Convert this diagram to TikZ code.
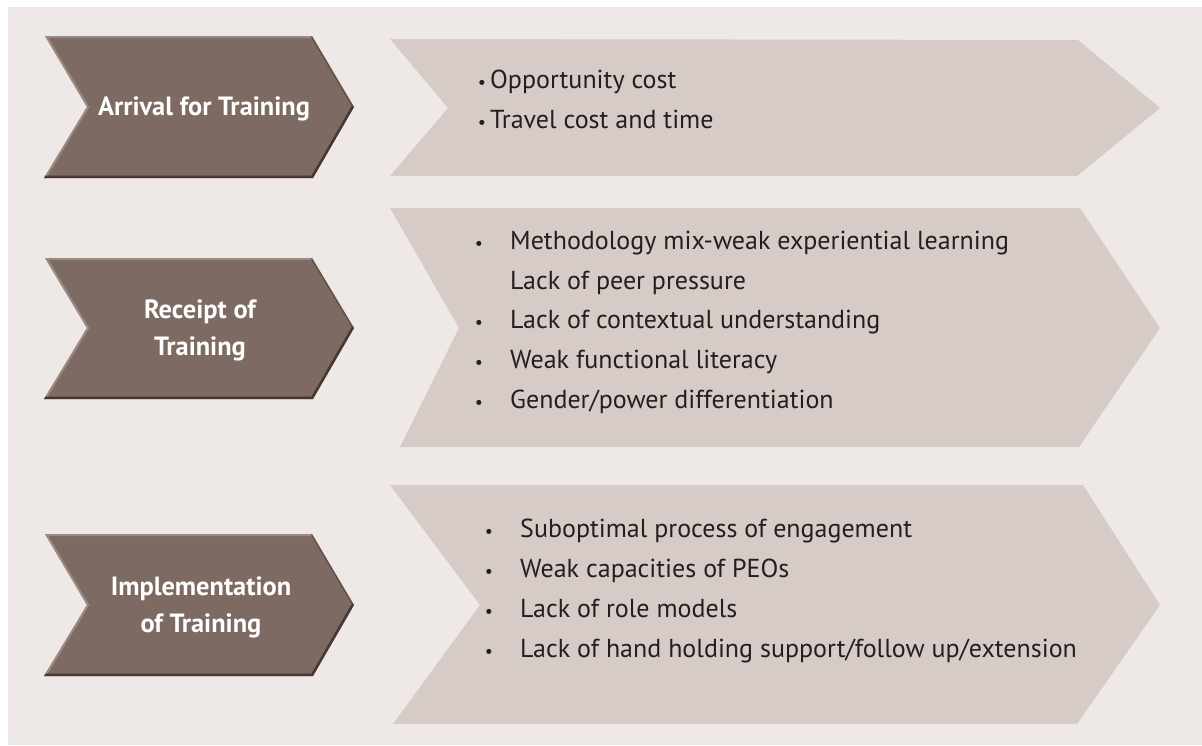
\documentclass[tikz,border=0pt]{standalone}
\usepackage{fontspec}
\setmainfont{PT Sans}
\definecolor{panel}{HTML}{EEE9E6}
\definecolor{lightchev}{HTML}{D6CBC7}
\definecolor{darkchev}{HTML}{7C6A63}
\definecolor{darkedge}{HTML}{4A382F}
\definecolor{lightedge}{HTML}{A8988F}
\definecolor{txt}{HTML}{231F20}
\tikzset{
  lab/.style={text=white,font=\fontsize{26.4}{37}\selectfont\bfseries,align=center,inner sep=0pt},
  item/.style={anchor=base west,text=txt,font=\fontsize{26}{30}\selectfont,inner sep=0pt},
  bul/.style={anchor=base,text=txt,font=\fontsize{18}{20}\selectfont,inner sep=0pt},
}
\newcommand{\darkchev}[3]{%
  \fill[darkchev] (45,#1) -- (312,#1) -- (354,#2) -- (313,#3) -- (44,#3) -- (87,#2) -- cycle;
  \begin{scope}
    \clip (45,#1) -- (312,#1) -- (354,#2) -- (313,#3) -- (44,#3) -- (87,#2) -- cycle;
    \draw[lightedge,line width=4pt,opacity=0.7] (44,#3) -- (87,#2) -- (45,#1) -- (312,#1);
    \draw[darkedge,line width=5pt] (44,#3) -- (313,#3) -- (354,#2);
    \draw[darkedge,line width=3pt,opacity=0.5] (354,#2) -- (312,#1);
  \end{scope}
}
\begin{document}
\begin{tikzpicture}[x=1pt,y=-1pt]
\useasboundingbox (0,0) rectangle (1202,745);
\fill[white] (0,0) rectangle (1202,745);
\fill[panel] (8,7) rectangle (1202,745);
% light chevrons
\fill[lightchev] (390,39) -- (1078,40) -- (1160,108) -- (1077,176) -- (390,176) -- (448,108) -- cycle;
\fill[lightchev] (390,208) -- (1080,208) -- (1160,328) -- (1079,447) -- (400,447) -- (459,328) -- cycle;
\fill[lightchev] (390,485) -- (1083,485) -- (1160,605) -- (1077,724) -- (393,724) -- (480,605) -- cycle;
% dark chevrons
\darkchev{36}{107}{178}
\darkchev{258}{328}{399}
\darkchev{534}{605}{676}
% labels
\node[lab] (l1) at (204,109) {Arrival for Training};
\node[lab] (l2) at (200,330) {Receipt of\\Training};
\node[lab] (l3) at (201,607) {Implementation\\of Training};
% chevron 1 items
\node[bul] (b1a) at (482,88) {•};
\node[item] (t1a) at (490,88) {Opportunity cost};
\node[bul] (b1b) at (482,128) {•};
\node[item] (t1b) at (490,128) {Travel cost and time};
% chevron 2 items
\node[bul] (b2a) at (479,249) {•};
\node[item] (t2a) at (510,249) {Methodology mix-weak experiential learning};
\node[item] (t2b) at (510,289) {Lack of peer pressure};
\node[bul] (b2c) at (479,328) {•};
\node[item] (t2c) at (510,328) {Lack of contextual understanding};
\node[bul] (b2d) at (479,368) {•};
\node[item] (t2d) at (510,368) {Weak functional literacy};
\node[bul] (b2e) at (479,408) {•};
\node[item] (t2e) at (510,408) {Gender/power differentiation};
% chevron 3 items
\node[bul] (b3a) at (489,537) {•};
\node[item] (t3a) at (520,537) {Suboptimal process of engagement};
\node[bul] (b3b) at (489,577) {•};
\node[item] (t3b) at (520,577) {Weak capacities of PEOs};
\node[bul] (b3c) at (489,617) {•};
\node[item] (t3c) at (520,617) {Lack of role models};
\node[bul] (b3d) at (489,657) {•};
\node[item] (t3d) at (520,657) {Lack of hand holding support/follow up/extension};
\end{tikzpicture}
\end{document}
